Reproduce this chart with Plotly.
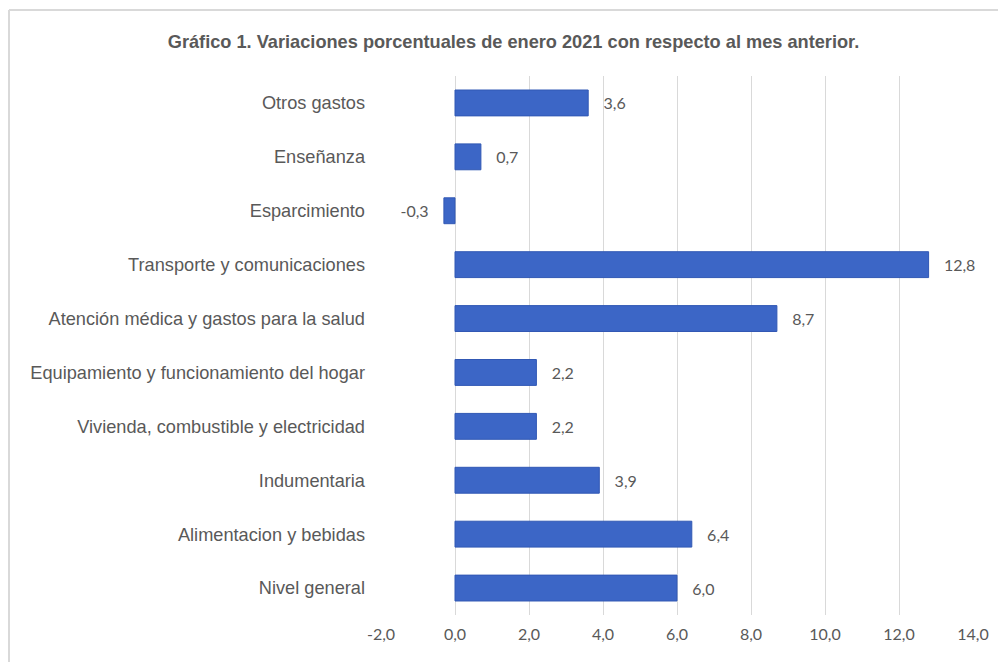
import plotly.graph_objects as go

categorias = [
    "Nivel general",
    "Alimentacion y bebidas",
    "Indumentaria",
    "Vivienda, combustible y electricidad",
    "Equipamiento y funcionamiento del hogar",
    "Atención médica y gastos para la salud",
    "Transporte y comunicaciones",
    "Esparcimiento",
    "Enseñanza",
    "Otros gastos",
]
variacion = [6.0, 6.4, 3.9, 2.2, 2.2, 8.7, 12.8, -0.3, 0.7, 3.6]

tick_vals = [-2, 0, 2, 4, 6, 8, 10, 12, 14]
tick_text = ["-2,0", "0,0", "2,0", "4,0", "6,0", "8,0", "10,0", "12,0", "14,0"]

# etiquetas con coma decimal y un poco de aire respecto a la barra
esp = "\u00a0\u00a0\u00a0"
etiquetas = []
for v in variacion:
    s = f"{v:.1f}".replace(".", ",")
    etiquetas.append(s + esp if v < 0 else esp + s)

fig = go.Figure()
fig.add_trace(go.Bar(
    y=categorias,
    x=variacion,
    orientation="h",
    width=0.48,
    marker=dict(color="#3C66C6", line=dict(color="#3158B4", width=1)),
    text=etiquetas,
    textposition="outside",
    textfont=dict(family="Lato, sans-serif", size=16, color="#595959"),
    cliponaxis=False,
    hoverinfo="skip",
))

W, H = 998, 654
L, R, T, B = 373, 33, 68, 47

fig.update_layout(
    width=W,
    height=H,
    paper_bgcolor="white",
    plot_bgcolor="white",
    margin=dict(l=L, r=R, t=T, b=B),
    showlegend=False,
    title=dict(
        text="<b>Gráfico 1. Variaciones porcentuales de enero 2021 con respecto al mes anterior.</b>",
        x=(513.5 - 8) / W,
        xanchor="center",
        y=1 - 34 / H,
        yanchor="middle",
        font=dict(family="Liberation Sans, Arial, sans-serif", size=18.2, color="#595959"),
    ),
    xaxis=dict(
        range=[-2, 14],
        tickvals=tick_vals,
        ticktext=tick_text,
        showgrid=True,
        gridcolor="#D9D9D9",
        gridwidth=1,
        zeroline=True,
        zerolinecolor="#D9D9D9",
        zerolinewidth=1,
        showline=False,
        tickfont=dict(family="Lato, sans-serif", size=16, color="#595959"),
        ticklabelstandoff=8,
        fixedrange=True,
    ),
    yaxis=dict(
        showgrid=False,
        showline=False,
        tickfont=dict(family="Liberation Sans, Arial, sans-serif", size=18.2, color="#595959"),
        ticklabelstandoff=15,
        fixedrange=True,
    ),
    bargap=0.52,
)

# marco exterior del gráfico: solo se ven los bordes superior e izquierdo
pw, ph = W - L - R, H - T - B
x_izq = (1 - L) / pw
y_sup = (H - 2 - B) / ph
fig.add_shape(type="line", xref="paper", yref="paper",
              x0=x_izq, x1=(W - L) / pw, y0=y_sup, y1=y_sup,
              line=dict(color="#D9D9D9", width=2), layer="below")
fig.add_shape(type="line", xref="paper", yref="paper",
              x0=x_izq, x1=x_izq, y0=-B / ph, y1=y_sup,
              line=dict(color="#D9D9D9", width=2), layer="below")

fig.write_html("out.html")
